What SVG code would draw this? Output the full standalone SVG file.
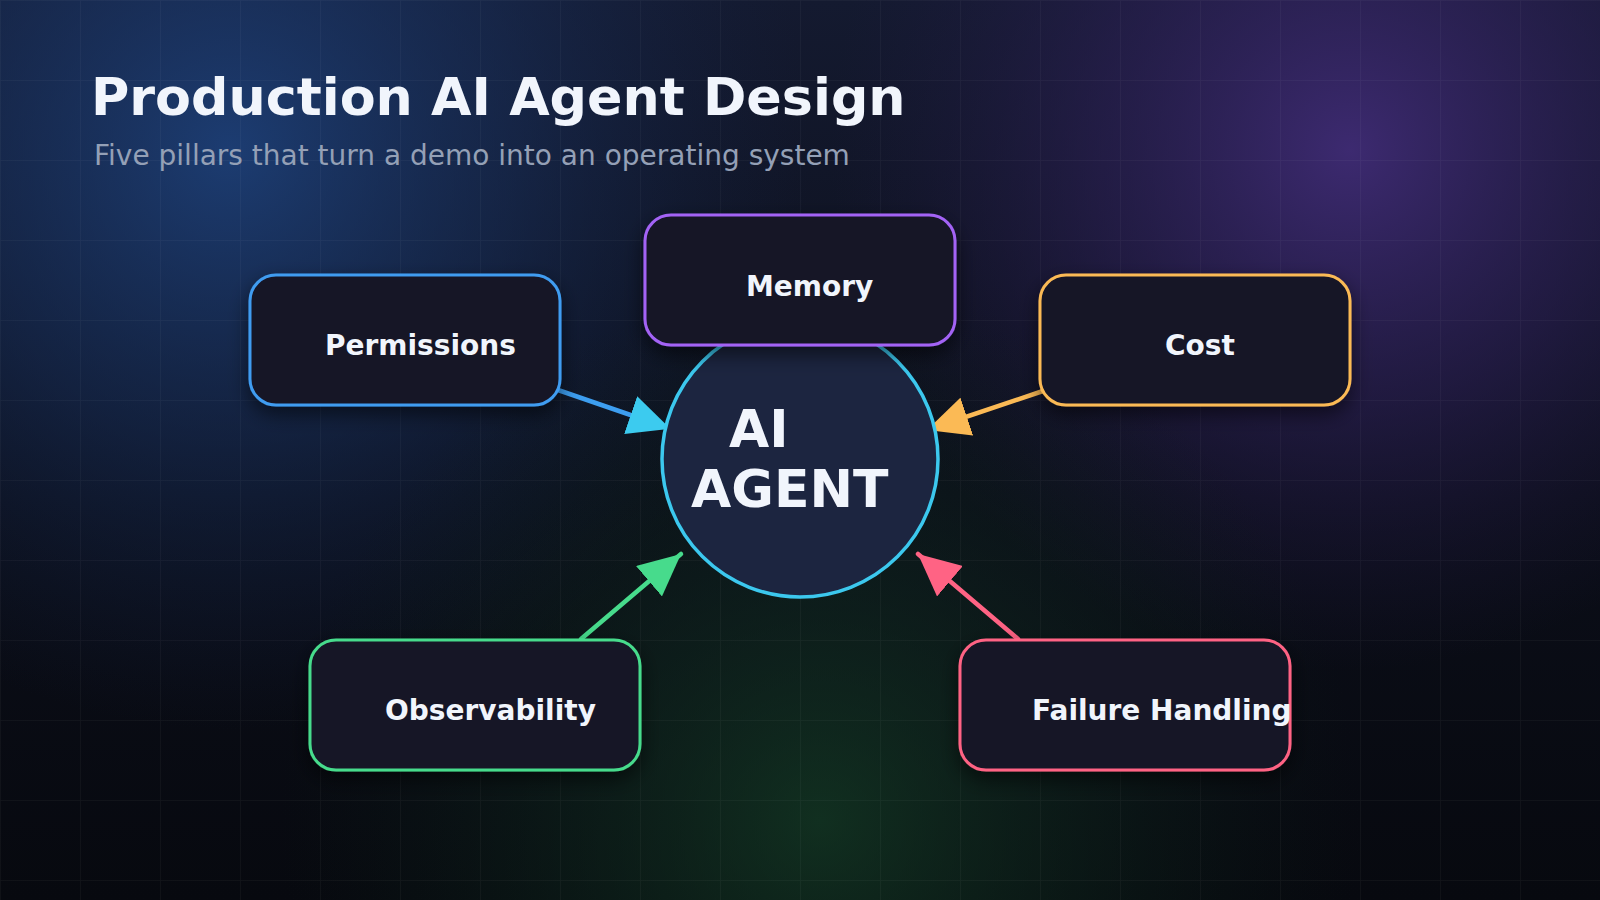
<svg xmlns="http://www.w3.org/2000/svg" width="1600" height="900" viewBox="0 0 1600 900">
  <defs>
    <linearGradient id="bgBase" x1="0" y1="0" x2="0" y2="1">
      <stop offset="0" stop-color="#141a30"/>
      <stop offset="0.55" stop-color="#0b0e19"/>
      <stop offset="1" stop-color="#07090f"/>
    </linearGradient>
    <radialGradient id="glowBlue" cx="230" cy="150" r="580" gradientUnits="userSpaceOnUse">
      <stop offset="0" stop-color="#1f4684" stop-opacity="0.8"/>
      <stop offset="0.5" stop-color="#1a3566" stop-opacity="0.45"/>
      <stop offset="1" stop-color="#142448" stop-opacity="0"/>
    </radialGradient>
    <radialGradient id="glowPurple" cx="1350" cy="150" r="520" gradientUnits="userSpaceOnUse">
      <stop offset="0" stop-color="#3f2b74" stop-opacity="0.95"/>
      <stop offset="0.5" stop-color="#2e2058" stop-opacity="0.55"/>
      <stop offset="1" stop-color="#201840" stop-opacity="0"/>
    </radialGradient>
    <radialGradient id="glowGreen" cx="820" cy="820" r="540" gradientUnits="userSpaceOnUse">
      <stop offset="0" stop-color="#17482a" stop-opacity="0.6"/>
      <stop offset="0.5" stop-color="#103020" stop-opacity="0.35"/>
      <stop offset="1" stop-color="#0c2018" stop-opacity="0"/>
    </radialGradient>
    <pattern id="grid" width="80" height="80" patternUnits="userSpaceOnUse">
      <path d="M80 0 L0 0 L0 80" fill="none" stroke="#ffffff" stroke-opacity="0.045" stroke-width="1.5"/>
    </pattern>
    <filter id="shadow" x="-20%" y="-20%" width="140%" height="160%">
      <feDropShadow dx="0" dy="8" stdDeviation="10" flood-color="#000000" flood-opacity="0.55"/>
    </filter>
    <marker id="headCyan" viewBox="0 0 49 40" refX="49" refY="20" markerWidth="49" markerHeight="40" markerUnits="userSpaceOnUse" orient="auto">
      <path d="M0 0 L42 20 L0 40 Z" fill="#3ccbef"/>
    </marker>
    <marker id="headOrange" viewBox="0 0 42 40" refX="42" refY="20" markerWidth="42" markerHeight="40" markerUnits="userSpaceOnUse" orient="auto">
      <path d="M0 0 L42 20 L0 40 Z" fill="#fbba55"/>
    </marker>
    <marker id="headGreen" viewBox="0 0 42 40" refX="42" refY="20" markerWidth="42" markerHeight="40" markerUnits="userSpaceOnUse" orient="auto">
      <path d="M0 0 L42 20 L0 40 Z" fill="#47db8c"/>
    </marker>
    <marker id="headPink" viewBox="0 0 42 40" refX="42" refY="20" markerWidth="42" markerHeight="40" markerUnits="userSpaceOnUse" orient="auto">
      <path d="M0 0 L42 20 L0 40 Z" fill="#ff6384"/>
    </marker>
  </defs>
  <style>
    .box { fill: #161426; stroke-width: 3; filter: url(#shadow); }
    .label { font-family: "DejaVu Sans", "Liberation Sans", sans-serif; font-weight: bold; font-size: 28px; fill: #f1f5fc; }
    .core { font-family: "DejaVu Sans", "Liberation Sans", sans-serif; font-weight: bold; font-size: 52px; fill: #f1f5fc; }
    .edge { fill: none; stroke-width: 4.5; stroke-linecap: round; }
  </style>

  <!-- background -->
  <rect width="1600" height="900" fill="url(#bgBase)"/>
  <rect width="1600" height="900" fill="url(#glowBlue)"/>
  <rect width="1600" height="900" fill="url(#glowPurple)"/>
  <rect width="1600" height="900" fill="url(#glowGreen)"/>
  <rect width="1600" height="900" fill="url(#grid)"/>

  <!-- title -->
  <text x="91" y="115" font-family="DejaVu Sans, Liberation Sans, sans-serif" font-weight="bold" font-size="52.3" fill="#f1f5fc">Production AI Agent Design</text>
  <text x="94" y="165" font-family="DejaVu Sans, Liberation Sans, sans-serif" font-size="28" fill="#94a0b6">Five pillars that turn a demo into an operating system</text>

  <!-- connectors -->
  <g id="connectors">
    <line class="edge" x1="558" y1="390" x2="677" y2="431" stroke="#3d9ef0" marker-end="url(#headCyan)"/>
    <line class="edge" x1="1043" y1="391" x2="927" y2="430" stroke="#fbba55" marker-end="url(#headOrange)"/>
    <line class="edge" x1="581" y1="639" x2="681" y2="554" stroke="#47db8c" marker-end="url(#headGreen)"/>
    <line class="edge" x1="1018" y1="639" x2="918" y2="554" stroke="#ff6384" marker-end="url(#headPink)"/>
  </g>

  <!-- center node -->
  <g id="node-agent">
    <circle cx="800" cy="459" r="138" fill="#1c2540" stroke="#3cc8ee" stroke-width="3.5"/>
    <text class="core" x="729" y="447">AI</text>
    <text class="core" x="691" y="507">AGENT</text>
  </g>

  <g id="node-permissions">
    <rect class="box" x="250" y="275" width="310" height="130" rx="26" stroke="#3f9cf0"/>
    <text class="label" x="325" y="355">Permissions</text>
  </g>
  <g id="node-memory">
    <rect class="box" x="645" y="215" width="310" height="130" rx="26" stroke="#a363f5"/>
    <text class="label" x="746" y="296">Memory</text>
  </g>
  <g id="node-cost">
    <rect class="box" x="1040" y="275" width="310" height="130" rx="26" stroke="#fbba55"/>
    <text class="label" x="1165" y="355">Cost</text>
  </g>
  <g id="node-observability">
    <rect class="box" x="310" y="640" width="330" height="130" rx="26" stroke="#47db8c"/>
    <text class="label" x="385" y="720">Observability</text>
  </g>
  <g id="node-failure">
    <rect class="box" x="960" y="640" width="330" height="130" rx="26" stroke="#ff6384"/>
    <text class="label" x="1032" y="720">Failure Handling</text>
  </g>
</svg>
